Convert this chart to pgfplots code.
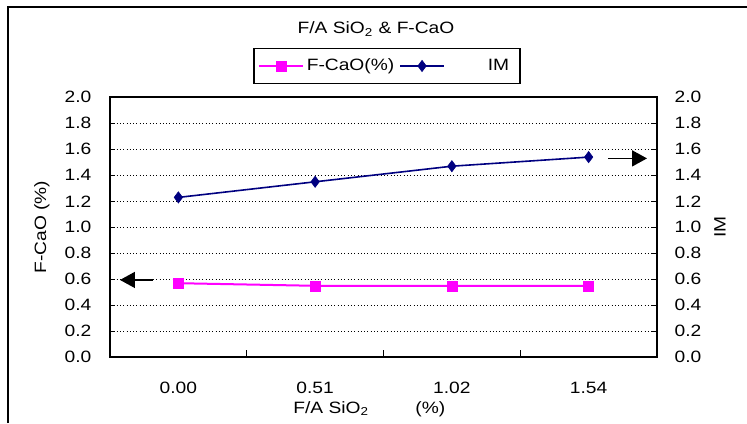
\documentclass[border=0pt]{standalone}
\usepackage{fontspec}
\setmainfont[FakeStretch=1.17]{Liberation Sans}
\usepackage{pgfplots}
\pgfplotsset{compat=1.18}
\usetikzlibrary{arrows.meta}
\newcommand\fs{\fontsize{8.2}{9.8}\selectfont}
\definecolor{fcao}{HTML}{FF00FF}
\definecolor{imc}{HTML}{000080}
\pgfplotsset{
  common/.style={
    at={(55pt,32.85pt)}, anchor=south west,
    scale only axis, width=273.5pt, height=130pt,
    xmin=-0.5, xmax=3.5, ymin=0, ymax=2,
    ytick={0,0.2,...,2.01},
    tick align=inside,
    major tick length=2.5pt, minor tick length=3.5pt,
    tick style={black, line width=0.6pt},
    axis line style={black, line width=1pt},
    font=\fs,
    /pgf/number format/assume math mode=true,
    yticklabel style={/pgf/number format/fixed, /pgf/number format/fixed zerofill, /pgf/number format/precision=1},
  },
}
\begin{document}
\begin{tikzpicture}[font=\fs]
\useasboundingbox (0,0) rectangle (373.5pt,211.5pt);
\fill[white] (0,0) rectangle (373.5pt,211.5pt);
\draw[line width=1pt] (4.1pt,0pt) -- (4.1pt,207.75pt) -- (373.5pt,207.75pt);
\begin{axis}[common,
  axis lines=box,
  xtick={0,1,2,3}, xticklabels={0.00,0.51,1.02,1.54},
  major x tick style={draw=none},
  minor xtick={0.5,1.5,2.5},
  xtick pos=bottom, ytick pos=left,
  yticklabel style={xshift=-5.8pt},
  xticklabel style={yshift=-8.8pt},
  ymajorgrids,
  grid style={black, line width=0.5pt, dash pattern=on 0.5pt off 1.15pt},
  legend columns=2,
  legend style={at={(0.5064,1.1204)}, anchor=center, draw=black, line width=0.7pt,
    inner xsep=2pt, inner ysep=3.5pt, nodes={inner sep=1.5pt, text depth=0.15em},
    /tikz/every even column/.append style={column sep=1pt}, font=\fs},
  legend image code/.code={\draw[mark repeat=2,mark phase=2,#1] plot coordinates {(0pt,0pt) (11pt,0pt) (22pt,0pt)};},
]
\addplot[color=fcao, line width=1pt, mark=square*, mark size=2.5pt, mark options={solid, fill=fcao, line width=0.3pt}]
  coordinates {(0,0.57) (1,0.55) (2,0.55) (3,0.55)};
\addlegendentry{F-CaO(\%)}
\addlegendimage{color=imc, line width=0.8pt, mark=diamond*, mark size=2.8pt, mark options={solid, fill=imc, line width=0.3pt}}
\addlegendentry{\hspace*{20pt}IM\hspace*{2pt}}
\draw[line width=0.8pt, -{Triangle[length=7.5pt,width=8pt]}] (axis cs:-0.186,0.595) -- (axis cs:-0.427,0.595);
\draw[line width=0.8pt, -{Triangle[length=7.5pt,width=8pt]}] (axis cs:3.142,1.53) -- (axis cs:3.427,1.53);
\end{axis}
\begin{axis}[common,
  axis x line=none,
  axis y line*=right,
  xtick=\empty,
  yticklabel style={xshift=5.3pt},
]
\addplot[color=imc, line width=0.8pt, mark=diamond*, mark size=2.8pt, mark options={solid, fill=imc, line width=0.3pt}]
  coordinates {(0,1.23) (1,1.35) (2,1.47) (3,1.54)};
\end{axis}
\node[anchor=base] at (188pt,194.5pt) {F/A SiO\textsubscript{2} \& F-CaO};
\node[anchor=base west, inner sep=0pt] at (146.5pt,5pt) {F/A SiO\textsubscript{2}};
\node[anchor=base west, inner sep=0pt] at (207.5pt,5pt) {(\%)};
\node[rotate=90] at (21pt,98pt) {F-CaO (\%)};
\node[rotate=90] at (360pt,98pt) {IM};
\end{tikzpicture}
\end{document}
